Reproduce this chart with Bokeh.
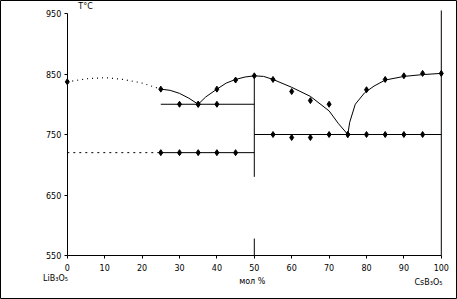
from bokeh.plotting import figure
from bokeh.models import Range1d, Label, FixedTicker
from bokeh.embed import file_html
from bokeh.resources import INLINE

# ---- data ----
x_ticks = [0, 10, 20, 30, 40, 50, 60, 70, 80, 90, 100]
y_ticks = [550, 650, 750, 850, 950]

# liquidus measured points
liq_x = [0, 25, 35, 40, 45, 50, 55, 60, 65, 70, 75, 80, 85, 90, 95, 100]
liq_y = [837, 825, 800, 825, 840, 847, 841, 821, 806, 800, 750, 824, 841, 847, 851, 851]

# solidus / eutectic measured points
sol800_x = [30, 35, 40]
sol800_y = [800, 800, 800]
sol720_x = [25, 30, 35, 40, 45]
sol720_y = [720, 720, 720, 720, 720]
sol750_x = [55, 60, 65, 70, 75, 80, 85, 90, 95]
sol750_y = [750, 745, 745, 750, 750, 750, 750, 750, 750]

# liquidus curves (traced)
cur_dot_x = [0, 5, 10, 15, 20, 25]
cur_dot_y = [837, 842, 844, 841, 835, 825]
cur_a_x = [25, 27.5, 30, 32.5, 35]
cur_a_y = [825, 823, 818, 810, 800]
cur_b_x = [35, 37, 40, 42.5, 45, 47.5, 50]
cur_b_y = [800, 812, 825, 835, 841, 845, 847]
cur_c_x = [50, 52.5, 55, 60, 65, 70, 72.5, 75]
cur_c_y = [847, 846, 841, 828, 813, 789, 768, 750]
cur_d_x = [75, 75.5, 77, 79.5, 82, 85, 90, 95, 100]
cur_d_y = [750, 770, 800, 819, 830, 840, 846, 849, 851]

# horizontal / vertical lines
h800_x = [25, 50]; h800_y = [800, 800]
h720s_x = [25, 50]; h720s_y = [720, 720]
h720d_x = [0, 25]; h720d_y = [720, 720]
h750_x = [50, 100]; h750_y = [750, 750]
v50a_x = [50, 50]; v50a_y = [847, 680]
v50b_x = [50, 50]; v50b_y = [578, 550]
v100_x = [100, 100]; v100_y = [550, 955]

FONT = "DejaVu Sans"
FS = "8px"

W, H = 457, 299
# pixel calibration of the reference (x=0 / y=950 positions and px per unit)
X0PX, XS = 66.8, 3.74
Y950PX, YS = 13.0, 0.605
XR = (-X0PX / XS, (W - X0PX) / XS)
YR = (950 - (H - Y950PX) / YS, 950 + Y950PX / YS)

p = figure(width=W, height=H, x_range=Range1d(*XR), y_range=Range1d(*YR),
           output_backend="svg", toolbar_location=None,
           min_border_left=0, min_border_right=0, min_border_top=0, min_border_bottom=0)
p.grid.visible = False
p.outline_line_color = "black"
p.outline_line_width = 1
p.background_fill_color = "white"
p.border_fill_color = "white"

for ax, loc, tk, bd in ((p.xaxis[0], 550, x_ticks, (0, 100)), (p.yaxis[0], 0, y_ticks, (550, 950))):
    ax.fixed_location = loc
    ax.bounds = bd
    ax.ticker = FixedTicker(ticks=tk)
    ax.major_tick_out = 3
    ax.major_tick_in = 0
    ax.minor_tick_out = 0
    ax.minor_tick_in = 0
    ax.axis_line_color = "black"
    ax.axis_line_width = 1
    ax.major_tick_line_color = "black"
    ax.major_label_text_font = FONT
    ax.major_label_text_font_size = FS
    ax.major_label_text_color = "black"
p.xaxis.major_label_standoff = 5
p.yaxis.major_label_standoff = 3

# lines
for xs, ys in ((h800_x, h800_y), (h720s_x, h720s_y), (h750_x, h750_y),
               (v50a_x, v50a_y), (v50b_x, v50b_y), (v100_x, v100_y),
               (cur_a_x, cur_a_y), (cur_b_x, cur_b_y), (cur_c_x, cur_c_y), (cur_d_x, cur_d_y)):
    p.line(xs, ys, line_color="black", line_width=1)
p.line(cur_dot_x, cur_dot_y, line_color="black", line_width=1.2, line_dash="1 4")
p.line(h720d_x, h720d_y, line_color="black", line_width=1, line_dash="2 4")

# markers
for xs, ys in ((liq_x, liq_y), (sol800_x, sol800_y), (sol720_x, sol720_y), (sol750_x, sol750_y)):
    p.scatter(xs, ys, marker="diamond", size=6, fill_color="black", line_color="black")

# text labels placed from pixel positions
def dx(px):
    return (px - X0PX) / XS
def dy(py):
    return 950 - (py - Y950PX) / YS

def lab(text, px, py, align="center", base="middle"):
    p.add_layout(Label(x=dx(px), y=dy(py), text=text, text_font=FONT, text_font_size=FS,
                       text_color="black", text_align=align, text_baseline=base))

lab("T°C", 85, 6)
lab("LiB₃O₅", 55, 278)
lab("мол  %", 253, 281)
lab("CsB₃O₅", 428, 282)

open("out.html", "w").write(file_html(p, INLINE))
